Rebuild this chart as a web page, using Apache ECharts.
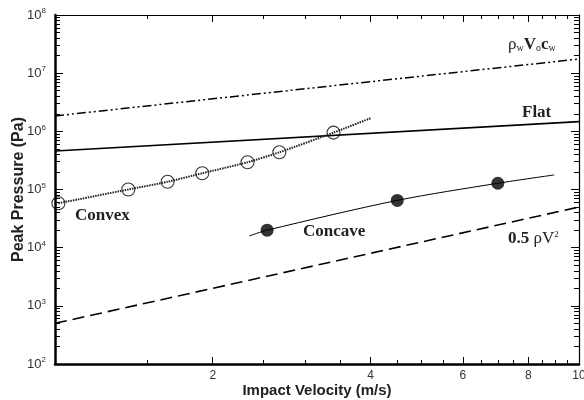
<!DOCTYPE html>
<html lang="en">
<head>
<meta charset="UTF-8">
<title>Peak Pressure vs Impact Velocity</title>
<script src="https://cdn.jsdelivr.net/npm/echarts@6/dist/echarts.min.js"></script>
<style>html,body{margin:0;padding:0;background:#fff;}</style>
</head>
<body>
<div id="main" style="width:584px;height:400px;"></div>
<script>
// tick values
var velMajor = [2, 4, 6, 8, 10];
var velMinor = [1.5, 2.5, 3, 3.5, 4.5, 5, 5.5, 6.5, 7, 7.5, 8.5, 9, 9.5];
var presMajor = [1e2, 1e3, 1e4, 1e5, 1e6, 1e7, 1e8];
var presMinor = [];
for (var n = 2; n < 8; n++) {
    for (var k = 2; k < 10; k++) presMinor.push(k * Math.pow(10, n));
}

// reference lines (end points)
var lineV = [1, 10];
var rhoVcP = [1.84e6, 1.75e7];
var flatP = [4.6e5, 1.47e6];
var dynP = [500, 5e4];

// convex: measured points and fitted curve
var convexV = [1.015, 1.38, 1.64, 1.91, 2.33, 2.68, 3.40];
var convexP = [5.8e4, 1.0e5, 1.36e5, 1.9e5, 2.94e5, 4.36e5, 9.5e5];
var convexFitV = [1.015, 1.38, 1.64, 1.91, 2.33, 2.68, 3.40, 4.0];
var convexFitP = [5.8e4, 1.0e5, 1.36e5, 1.9e5, 2.94e5, 4.36e5, 9.5e5, 1.68e6];

// concave: measured points and fitted curve
var concaveV = [2.54, 4.50, 7.0];
var concaveP = [2.0e4, 6.5e4, 1.28e5];
var concaveFitV = [2.35, 2.54, 4.50, 7.0, 8.97];
var concaveFitP = [1.59e4, 2.0e4, 6.5e4, 1.28e5, 1.78e5];

function pairs(xs, ys) {
    return xs.map(function (x, i) { return [x, ys[i]]; });
}
function logs(arr) {
    return arr.map(function (v) { return Math.log10(v); });
}

// decoration axes: linear in log10 space, only ticks
function tickAxis(pos, min, max, ticks, len, showLine, lineW) {
    return {
        type: 'value', min: min, max: max, position: pos,
        axisLine: { show: showLine, onZero: false, lineStyle: { color: '#000', width: lineW } },
        axisTick: { show: true, inside: true, length: len, customValues: logs(ticks), lineStyle: { color: '#000', width: 1 } },
        axisLabel: { show: false },
        splitLine: { show: false }
    };
}

var myChart = echarts.init(document.getElementById('main'));

var serif = '"Liberation Serif", "DejaVu Serif", serif';

var option = {
    animation: false,
    backgroundColor: '#fff',
    grid: { left: 55, right: 5, top: 15, bottom: 36, outerBoundsMode: 'none', containLabel: false },
    xAxis: [
        {
            type: 'log', logBase: 10, min: 1, max: 10, position: 'bottom',
            axisLine: { show: true, onZero: false, lineStyle: { color: '#000', width: 2.5 } },
            axisTick: { show: false },
            axisLabel: { customValues: velMajor, margin: 6, color: '#333', fontSize: 12, fontFamily: 'Liberation Sans' },
            splitLine: { show: false },
            name: 'Impact Velocity (m/s)', nameLocation: 'middle', nameGap: 19, nameMoveOverlap: false,
            nameTextStyle: { fontSize: 15, fontWeight: 'bold', color: '#222', fontFamily: 'Liberation Sans' }
        },
        tickAxis('bottom', 0, 1, velMajor, 7, false, 1),
        tickAxis('bottom', 0, 1, velMinor, 4, false, 1),
        tickAxis('top', 0, 1, velMajor, 7, true, 1.2),
        tickAxis('top', 0, 1, velMinor, 4, false, 1)
    ],
    yAxis: [
        {
            type: 'log', logBase: 10, min: 1e2, max: 1e8, position: 'left',
            axisLine: { show: true, onZero: false, lineStyle: { color: '#000', width: 2.5 } },
            axisTick: { show: false },
            axisLabel: {
                customValues: presMajor, margin: 9,
                formatter: function (v) {
                    return '{b|10}{s|' + Math.round(Math.log10(v)) + '}';
                },
                rich: {
                    b: { fontSize: 13, color: '#333', fontFamily: 'Liberation Sans' },
                    s: { fontSize: 8, color: '#333', fontFamily: 'Liberation Sans', verticalAlign: 'top', padding: [0, 0, 8, 0] }
                }
            },
            splitLine: { show: false },
            name: 'Peak Pressure (Pa)', nameLocation: 'middle', nameGap: 28, nameMoveOverlap: false,
            nameTextStyle: { fontSize: 16, fontWeight: 'bold', color: '#222', fontFamily: 'Liberation Sans' }
        },
        tickAxis('left', 2, 8, presMajor, 8, false, 1),
        tickAxis('left', 2, 8, presMinor, 5, false, 1),
        tickAxis('right', 2, 8, presMajor, 8, true, 1.2),
        tickAxis('right', 2, 8, presMinor, 5, false, 1)
    ],
    series: [
        {
            name: 'rhoVc', type: 'line', symbol: 'none', data: pairs(lineV, rhoVcP),
            lineStyle: { color: '#000', width: 1.5, type: [9, 3, 2, 3, 2, 3] }
        },
        {
            name: 'Flat', type: 'line', symbol: 'none', data: pairs(lineV, flatP),
            lineStyle: { color: '#000', width: 1.6 }
        },
        {
            name: 'Dynamic', type: 'line', symbol: 'none', data: pairs(lineV, dynP),
            lineStyle: { color: '#000', width: 1.6, type: [12, 6] }
        },
        {
            name: 'Convex fit', type: 'line', symbol: 'none', smooth: 0.2, data: pairs(convexFitV, convexFitP),
            lineStyle: { color: '#222', width: 2, type: [1.5, 1] }
        },
        {
            name: 'Concave fit', type: 'line', symbol: 'none', smooth: 0.3, data: pairs(concaveFitV, concaveFitP),
            lineStyle: { color: '#000', width: 1 }
        },
        {
            name: 'Convex', type: 'scatter', clip: false, symbol: 'circle', symbolSize: 13,
            data: pairs(convexV, convexP),
            itemStyle: { color: 'rgba(255,255,255,0)', borderColor: '#000', borderWidth: 1.1 }
        },
        {
            name: 'Concave', type: 'scatter', symbol: 'circle', symbolSize: 13,
            data: pairs(concaveV, concaveP),
            itemStyle: { color: '#000' }
        }
    ],
    graphic: [
        {
            type: 'text', left: 508, top: 36,
            style: {
                text: '{r|ρ}{u|w}{v|V}{u|o}{v|c}{u|w}',
                rich: {
                    r: { fontSize: 17, fontFamily: serif, fill: '#222' },
                    v: { fontSize: 17, fontFamily: serif, fontWeight: 'bold', fill: '#222' },
                    u: { fontSize: 10, fontFamily: serif, fill: '#222', padding: [8, 0, 0, 0] }
                }
            }
        },
        {
            type: 'text', left: 522, top: 104,
            style: { text: 'Flat', font: 'bold 17px ' + serif, fill: '#222' }
        },
        {
            type: 'text', left: 75, top: 207,
            style: { text: 'Convex', font: 'bold 17px ' + serif, fill: '#222' }
        },
        {
            type: 'text', left: 303, top: 223,
            style: { text: 'Concave', font: 'bold 17px ' + serif, fill: '#222' }
        },
        {
            type: 'text', left: 508, top: 230,
            style: {
                text: '{a|0.5 }{r|ρV}{s|2}',
                rich: {
                    a: { fontSize: 17, fontFamily: serif, fontWeight: 'bold', fill: '#222' },
                    r: { fontSize: 17, fontFamily: serif, fill: '#222' },
                    s: { fontSize: 9, fontFamily: serif, fill: '#222', padding: [0, 0, 8, 0] }
                }
            }
        }
    ]
};

myChart.setOption(option);
</script>
</body>
</html>
